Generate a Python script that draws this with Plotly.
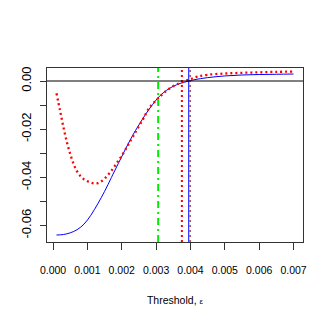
import plotly.graph_objects as go

# ---- data ----
red_x = [0.0001, 0.0002, 0.0003, 0.0004, 0.0005, 0.0006, 0.0007, 0.0008, 0.0009, 0.0010,
         0.0011, 0.0012, 0.0013, 0.0014, 0.0015, 0.0016, 0.0017, 0.0018, 0.0019, 0.0020,
         0.0022, 0.0024, 0.0026, 0.0028, 0.0030, 0.0032, 0.0034, 0.0036, 0.0038, 0.0040,
         0.0042, 0.0045, 0.0050, 0.0055, 0.0060, 0.0065, 0.0070]
red_y = [-0.0051, -0.0120, -0.0190, -0.0252, -0.0303, -0.0345, -0.0375, -0.0395, -0.0408, -0.0416,
         -0.0422, -0.0425, -0.0424, -0.0417, -0.0405, -0.0390, -0.0372, -0.0352, -0.0331, -0.0310,
         -0.0262, -0.0212, -0.0163, -0.0112, -0.0080, -0.0053, -0.0030, -0.0014, -0.0002, 0.0008,
         0.0018, 0.0026, 0.0031, 0.0034, 0.0036, 0.0038, 0.0039]

blue_x = [0.0001, 0.0003, 0.0005, 0.0007, 0.0009, 0.0011, 0.0013, 0.0015, 0.0017, 0.0019,
          0.0021, 0.0023, 0.0025, 0.0027, 0.0029, 0.0031, 0.0033, 0.0035, 0.0037, 0.0039,
          0.0041, 0.0045, 0.0050, 0.0055, 0.0060, 0.0065, 0.0070]
blue_y = [-0.0639, -0.0637, -0.0630, -0.0617, -0.0594, -0.0557, -0.0510, -0.0458, -0.0400, -0.0342,
          -0.0285, -0.0230, -0.0182, -0.0137, -0.0097, -0.0063, -0.0039, -0.0022, -0.0010, -0.0002,
          0.0005, 0.0014, 0.0021, 0.0025, 0.0027, 0.0028, 0.0029]

vline_green = 0.00306
vline_red = 0.00375
vline_blue = 0.00395
vline_darkred = 0.00399

x_ticks = [0.000, 0.001, 0.002, 0.003, 0.004, 0.005, 0.006, 0.007]
x_ticklabels = ["0.000", "0.001", "0.002", "0.003", "0.004", "0.005", "0.006", "0.007"]
y_ticks = [0.00, -0.01, -0.02, -0.03, -0.04, -0.05, -0.06]
y_ticklabels = ["0.00", "", "-0.02", "", "-0.04", "", "-0.06"]

x_range = [-0.000176, 0.007276]
y_range = [-0.0668, 0.0054]

fig = go.Figure()

fig.add_trace(go.Scatter(x=blue_x, y=blue_y, mode="lines", line=dict(color="#0000FF", width=1, shape="spline")))
fig.add_trace(go.Scatter(x=red_x, y=red_y, mode="lines",
                         line=dict(color="#FF0000", width=2.3, dash="2px,3px", shape="spline")))

def vline(x, color, width, dash):
    fig.add_shape(type="line", xref="x", yref="paper", x0=x, x1=x, y0=0, y1=1,
                  line=dict(color=color, width=width, dash=dash))

vline(vline_green, "#00EE00", 2, "7px,4px,2px,4px")
vline(vline_red, "#FF0000", 2, "2px,3px")
vline(vline_blue, "#0000FF", 1, "solid")
vline(vline_darkred, "#8B1A1A", 1.2, "2px,3px")

fig.add_shape(type="line", xref="paper", yref="y", x0=0, x1=1, y0=0, y1=0,
              line=dict(color="black", width=1))

fam = "Liberation Sans, Arial, sans-serif"
xfont = dict(family=fam, size=10.5, color="black")
yfont = dict(family=fam, size=13, color="black")

fig.update_layout(
    width=319, height=319,
    margin=dict(l=39, r=24, t=60, b=85),
    paper_bgcolor="white", plot_bgcolor="white",
    showlegend=False,
    font=xfont,
    xaxis=dict(range=x_range, tickvals=x_ticks, ticktext=x_ticklabels, automargin=False,
               showgrid=False, zeroline=False, showline=True, mirror=True,
               linecolor="#333333", linewidth=1, ticks="outside", ticklen=7,
               tickcolor="#333333", tickfont=xfont, ticklabelstandoff=11,
               title=dict(text="Threshold, <span style='font-size:8px'>ε</span>",
                          font=dict(family=fam, size=10.5, color="black"),
                          standoff=22)),
    yaxis=dict(range=y_range, tickvals=y_ticks, ticktext=y_ticklabels, automargin=False,
               showgrid=False, zeroline=False, showline=True, mirror=True,
               linecolor="#333333", linewidth=1, ticks="outside", ticklen=6,
               tickcolor="#333333", tickfont=yfont, tickangle=-90, ticklabelstandoff=4),
)

fig.write_html("out.html")
